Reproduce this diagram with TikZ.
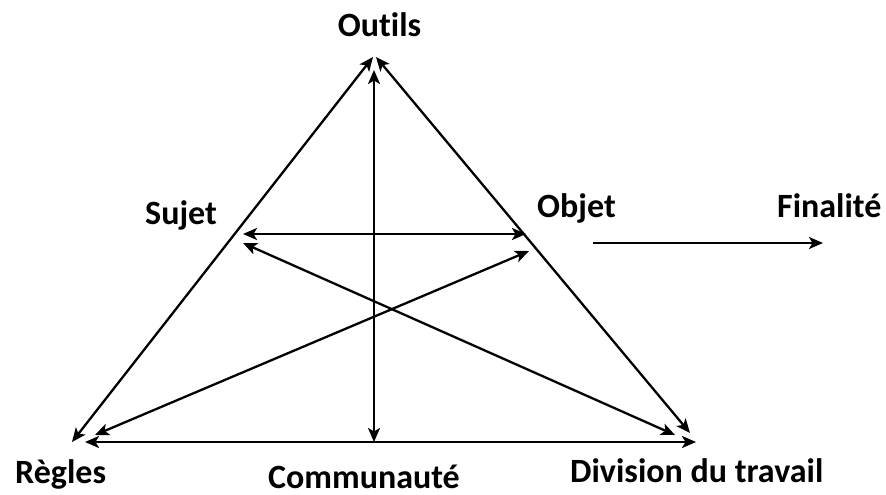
\documentclass[tikz,border=0pt]{standalone}
\usepackage{fontspec}
\setmainfont{Carlito}[Ligatures=NoCommon]
\usetikzlibrary{arrows.meta}

\begin{document}
\begin{tikzpicture}[
  x=1pt, y=-1pt,
  lab/.style={font=\bfseries\fontsize{34}{38}\selectfont, inner sep=0pt},
  dbl/.style={{Stealth[length=14pt,width=12pt,inset=3.5pt]}-{Stealth[length=14pt,width=12pt,inset=3.5pt]}, line width=2.3pt},
  one/.style={-{Stealth[length=14pt,width=12pt,inset=3.5pt]}, line width=2.3pt}
]
\useasboundingbox (0,0) rectangle (886,495);

% ---------------- labels ----------------
\node[lab, anchor=base] (outils) at (379.5,37) {Outils};
\node[lab, anchor=base west] (sujet) at (145,224) {Sujet};
\node[lab, anchor=base west] (objet) at (537,217) {Objet};
\node[lab, anchor=base west] (finalite) at (777,217) {Finalité};
\node[lab, anchor=base west] (regles) at (15,483) {Règles};
\node[lab, anchor=base west] (commu) at (268,488) {Communauté};
\node[lab, anchor=base west] (division) at (570,482) {Division du travail};

% ---------------- arrow ends ----------------
\coordinate (apexL) at (373,57);
\coordinate (apexR) at (376,57);
\coordinate (apexV) at (374,70);
\coordinate (cornL) at (72,442);
\coordinate (cornR) at (690,433);
\coordinate (baseL) at (85,442);
\coordinate (baseR) at (696,442);
\coordinate (baseV) at (374,442);
\coordinate (sujA) at (243,234);
\coordinate (sujB) at (243,243);
\coordinate (objA) at (526,234);
\coordinate (objB) at (529,251);
\coordinate (regB) at (95,435);
\coordinate (divB) at (675,435);
\coordinate (finA) at (593,243);
\coordinate (finB) at (823,243);

% ---------------- arrows ----------------
\draw[dbl] (cornL) -- (apexL);
\draw[dbl] (cornR) -- (apexR);
\draw[dbl] (baseV) -- (apexV);
\draw[dbl] (baseL) -- (baseR);
\draw[dbl] (sujA) -- (objA);
\draw[dbl] (sujB) -- (divB);
\draw[dbl] (regB) -- (objB);
\draw[one] (finA) -- (finB);
\end{tikzpicture}
\end{document}
